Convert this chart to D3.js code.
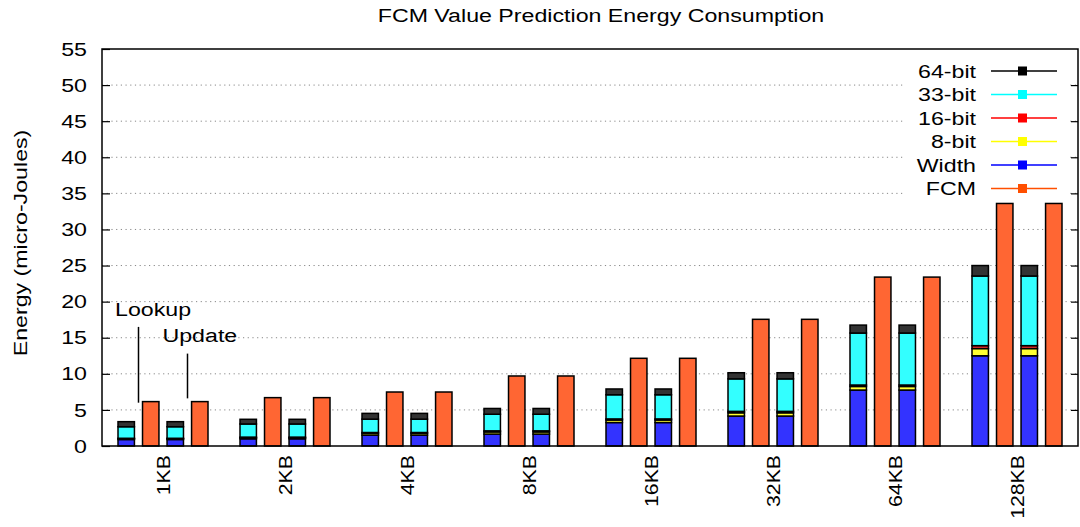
<!DOCTYPE html>
<html>
<head>
<meta charset="utf-8">
<script src="https://cdn.jsdelivr.net/npm/d3@7"></script>
<style>
body { margin: 0; background: #fff; }
text { font-family: "Liberation Sans", Arial, sans-serif; fill: #000; }
</style>
</head>
<body>
<script>
const width = 1080;
const height = 527;

// data (micro-Joules)
var categories = ["1KB", "2KB", "4KB", "8KB", "16KB", "32KB", "64KB", "128KB"];
var phases = ["Lookup", "Update"];
var widthE = [0.9, 1.0, 1.5, 1.65, 3.25, 4.15, 7.75, 12.5];
var bit8 = [0.12, 0.15, 0.25, 0.3, 0.35, 0.45, 0.5, 1.0];
var bit16 = [0.05, 0.08, 0.12, 0.15, 0.15, 0.2, 0.2, 0.4];
var bit33 = [1.6, 1.82, 1.85, 2.3, 3.35, 4.5, 7.2, 9.65];
var bit64 = [0.7, 0.65, 0.8, 0.8, 0.8, 0.85, 1.1, 1.45];
var fcm = [6.15, 6.7, 7.48, 9.7, 12.15, 17.55, 23.4, 33.6];
var yTicks = [0, 5, 10, 15, 20, 25, 30, 35, 40, 45, 50, 55];

var seriesNames = ["Width", "8-bit", "16-bit", "33-bit", "64-bit"];
var seriesData = [widthE, bit8, bit16, bit33, bit64];
var fillColors = { "Width": "#3333ff", "8-bit": "#ffff33", "16-bit": "#ff3333", "33-bit": "#33ffff", "64-bit": "#333333", "FCM": "#ff6633" };
var keyColors = { "64-bit": "#000000", "33-bit": "#00ffff", "16-bit": "#ff0000", "8-bit": "#ffff00", "Width": "#0000ff", "FCM": "#ff4f00" };
var keyOrder = ["64-bit", "33-bit", "16-bit", "8-bit", "Width", "FCM"];

const margin = { top: 49, right: 2, bottom: 81, left: 102 };
// the original font is wider than Liberation Sans
const stretch = 1.22;

const svg = d3.select("body")
  .append("svg")
  .attr("width", width)
  .attr("height", height);

var x = d3.scaleBand()
  .domain(categories)
  .range([margin.left, width - margin.right])
  .padding(0);

// 4 bars per group: lookup stack, lookup FCM, update stack, update FCM
var xInner = d3.scaleBand()
  .domain(["Lookup-stack", "Lookup-fcm", "Update-stack", "Update-fcm"])
  .range([-45, 45])
  .paddingInner(0.33);

var y = d3.scaleLinear()
  .domain([0, 55])
  .range([height - margin.bottom, margin.top]);

function label(g, px, py, rot, sx) {
  return g.append("text")
    .attr("transform", "translate(" + px + "," + py + ")" + (rot ? " rotate(" + rot + ")" : "") + " scale(" + sx + ",1)")
    .style("font-size", "19px");
}

// grid
svg.append("g").selectAll("line")
  .data(yTicks.filter(function(d) { return d > 0 && d < 55; }))
  .enter().append("line")
  .attr("x1", margin.left)
  .attr("x2", width - margin.right)
  .attr("y1", function(d) { return y(d); })
  .attr("y2", function(d) { return y(d); })
  .style("stroke", "#888")
  .style("stroke-width", 1)
  .style("stroke-dasharray", "1.2,3.5");

// build the stacked table
var table = categories.map(function(c, i) {
  var row = { cat: c };
  seriesNames.forEach(function(s, j) { row[s] = seriesData[j][i]; });
  return row;
});
var stacked = d3.stack().keys(seriesNames)(table);

var barLayer = svg.append("g");

phases.forEach(function(p) {
  stacked.forEach(function(layer) {
    barLayer.append("g").selectAll("rect")
      .data(layer)
      .enter().append("rect")
      .attr("x", function(d) { return x(d.data.cat) + x.bandwidth() / 2 + xInner(p + "-stack"); })
      .attr("width", xInner.bandwidth())
      .attr("y", function(d) { return y(d[1]); })
      .attr("height", function(d) { return y(d[0]) - y(d[1]); })
      .style("fill", fillColors[layer.key])
      .style("stroke", "#000")
      .style("stroke-width", 1.5);
  });

  barLayer.append("g").selectAll("rect")
    .data(fcm)
    .enter().append("rect")
    .attr("x", function(d, i) { return x(categories[i]) + x.bandwidth() / 2 + xInner(p + "-fcm"); })
    .attr("width", xInner.bandwidth())
    .attr("y", function(d) { return y(d); })
    .attr("height", function(d) { return y(0) - y(d); })
    .style("fill", fillColors["FCM"])
    .style("stroke", "#000")
    .style("stroke-width", 1.5);
});

// border box
svg.append("rect")
  .attr("x", margin.left)
  .attr("y", margin.top)
  .attr("width", width - margin.left - margin.right)
  .attr("height", y(0) - margin.top)
  .style("fill", "none")
  .style("stroke", "#000")
  .style("stroke-width", 1.5);

// y ticks, both sides, pointing in
var yAxisL = d3.axisLeft(y).tickValues(yTicks).tickSize(-8).tickFormat("");
svg.append("g")
  .attr("transform", "translate(" + margin.left + ",0)")
  .call(yAxisL)
  .call(function(g) {
    g.select(".domain").remove();
    g.selectAll("line").style("stroke-width", 1.2);
  });

var yAxisR = d3.axisRight(y).tickValues(yTicks.filter(function(d) { return d > 0 && d < 55; })).tickSize(-7).tickFormat("");
svg.append("g")
  .attr("transform", "translate(" + (width - margin.right) + ",0)")
  .call(yAxisR)
  .call(function(g) {
    g.select(".domain").remove();
    g.selectAll("line").style("stroke-width", 1.2);
  });

var tickLabels = svg.append("g");
yTicks.forEach(function(t) {
  label(tickLabels, 87, y(t), 0, stretch)
    .attr("text-anchor", "end")
    .attr("dy", "0.35em")
    .text(t);
});

// x labels rotated
var xLabels = svg.append("g");
categories.forEach(function(c) {
  label(xLabels, x(c) + x.bandwidth() / 2, y(0) + 9, -90, 1.12)
    .attr("text-anchor", "end")
    .attr("dy", "0.35em")
    .text(c);
});

// y axis title
label(svg, 27, 243, -90, stretch)
  .attr("text-anchor", "middle")
  .text("Energy (micro-Joules)");

// title
label(svg, 601, 22, 0, stretch)
  .attr("text-anchor", "middle")
  .text("FCM Value Prediction Energy Consumption");

// Lookup / Update annotations
var c0 = x(categories[0]) + x.bandwidth() / 2;
svg.append("line")
  .attr("x1", c0 - 24.5).attr("x2", c0 - 24.5)
  .attr("y1", y(16.5)).attr("y2", y(6.0))
  .style("stroke", "#000").style("stroke-width", 1.5);
label(svg, c0 - 48, y(18.0), 0, stretch).text("Lookup");
svg.append("line")
  .attr("x1", c0 + 24.5).attr("x2", c0 + 24.5)
  .attr("y1", y(12.8)).attr("y2", y(6.6))
  .style("stroke", "#000").style("stroke-width", 1.5);
label(svg, c0 - 0.5, y(14.4), 0, stretch).text("Update");

// legend
var legend = svg.append("g");
legend.append("rect")
  .attr("x", 904).attr("y", 58)
  .attr("width", 166).attr("height", 142)
  .style("fill", "#fff");

keyOrder.forEach(function(k, i) {
  var ry = 71 + i * 23.5;
  label(legend, 976, ry, 0, stretch)
    .attr("text-anchor", "end")
    .attr("dy", "0.35em")
    .text(k);
  legend.append("line")
    .attr("x1", 991).attr("x2", 1057)
    .attr("y1", ry).attr("y2", ry)
    .style("stroke", keyColors[k])
    .style("stroke-width", 1.3);
  legend.append("rect")
    .attr("x", 1018).attr("y", ry - 4.5)
    .attr("width", 9).attr("height", 9)
    .style("fill", keyColors[k]);
});
</script>
</body>
</html>
